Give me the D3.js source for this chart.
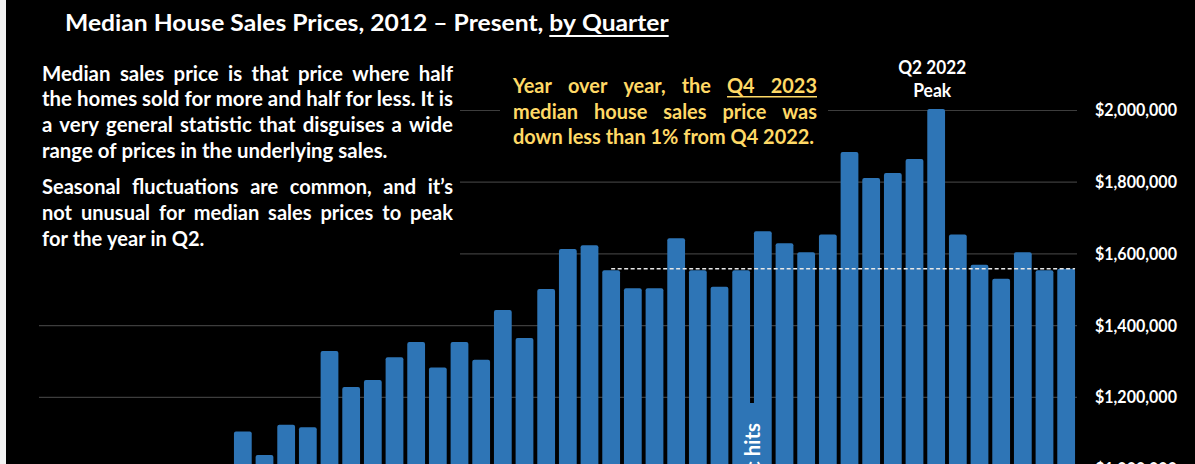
<!DOCTYPE html>
<html>
<head>
<meta charset="utf-8">
<script src="https://cdn.jsdelivr.net/npm/d3@7"></script>
<style>
  html, body { margin: 0; padding: 0; background: #000; overflow: hidden; }
  svg { display: block; }
  text { font-family: Lato, "Open Sans", sans-serif; font-weight: bold; }
</style>
</head>
<body>
<div id="graph"></div>
<script>
// quarters 2012 Q1 .. 2023 Q4
const years = [ 2012, 2013, 2014, 2015, 2016, 2017, 2018, 2019, 2020, 2021, 2022, 2023 ];
const quarterNames = [ "Q1", "Q2", "Q3", "Q4" ];

// median sales price per quarter (2012 - 2014 Q1 sit below the visible area)
const prices = [
  820000, 870000, 860000, 850000,
  900000, 960000, 940000, 930000,
  975000, 1103000, 1038000, 1122000,
  1115000, 1328000, 1227000, 1247000,
  1310000, 1353000, 1282000, 1353000,
  1303000, 1442000, 1364000, 1501000,
  1612000, 1623000, 1553000, 1503000,
  1503000, 1642000, 1553000, 1507000,
  1553000, 1662000, 1628000, 1603000,
  1653000, 1883000, 1810000, 1824000,
  1863000, 2003000, 1653000, 1568000,
  1529000, 1603000, 1553000, 1557000
];

const yTicks = [ 0, 200000, 400000, 600000, 800000, 1000000, 1200000, 1400000, 1600000, 1800000, 2000000 ];

const peakQuarter = "2022 Q2";
const peakLabel = [ "Q2 2022", "Peak" ];
const pandemicQuarter = "2020 Q1";
const pandemicLabel = "Pandemic hits";
const dashFrom = "2018 Q3";

const titleLine = [ [ { t: "Median House Sales Prices, 2012 \u2013 Present," }, { t: "by Quarter", u: true } ] ];
const medianLines = [
  [ { t: "Median sales price is that price where half" } ],
  [ { t: "the homes sold for more and half for less. It is" } ],
  [ { t: "a very general statistic that disguises a wide" } ],
  [ { t: "range of prices in the underlying sales." } ]
];
const seasonLines = [
  [ { t: "Seasonal fluctuations are common, and it\u2019s" } ],
  [ { t: "not unusual for median sales prices to peak" } ],
  [ { t: "for the year in Q2." } ]
];
const yoyLines = [
  [ { t: "Year over year, the" }, { t: "Q4 2023", u: true } ],
  [ { t: "median house sales price was" } ],
  [ { t: "down less than 1% from Q4 2022." } ]
];

let options = {
  width: 1195,
  height: 464,
  left: 37,
  right: 1077,
  top: 110,
  zeroY: 827,
  bar: "#2e75b6",
  grid: "#3d3d3d",
  yellow: "#ffd966"
};

let quarters = years.flatMap( y => quarterNames.map( q => y + " " + q ) );
let data = quarters.map( ( q, i ) => ( { quarter: q, price: prices[i] } ) );

function measure( g, str, size ) {
  let t = g.append( "text" ).attr( "font-size", size ).text( str );
  let w = t.node().getComputedTextLength();
  t.remove();
  return w;
}

function drawLine( g, segments, o ) {
  let words = [];
  segments.forEach( s => s.t.split( " " ).forEach( w => words.push( { t: w, u: !!s.u } ) ) );
  let space = ( measure( g, "x x", o.size ) - measure( g, "xx", o.size ) ) * o.k;
  let widths = words.map( w => measure( g, w.t, o.size ) * o.k );
  let gap = o.justify ? ( o.width - d3.sum( widths ) ) / ( words.length - 1 ) : space;
  let x = o.x;
  words.forEach( ( w, i ) => {
    w.x = x;
    w.w = widths[i];
    g.append( "text" )
     .attr( "x", x )
     .attr( "y", o.y )
     .attr( "font-size", o.size )
     .attr( "fill", o.color )
     .attr( "textLength", widths[i] )
     .attr( "lengthAdjust", "spacingAndGlyphs" )
     .text( w.t );
    x += widths[i] + gap;
  });
  let ul = words.filter( w => w.u );
  if ( ul.length ) {
    g.append( "line" )
     .attr( "x1", ul[0].x )
     .attr( "x2", ul[ ul.length - 1 ].x + ul[ ul.length - 1 ].w )
     .attr( "y1", o.y + o.ulOffset )
     .attr( "y2", o.y + o.ulOffset )
     .attr( "stroke", o.color )
     .attr( "stroke-width", o.ulWidth );
  }
}

function drawBlock( g, lines, o ) {
  let lastText = lines[ lines.length - 1 ].map( s => s.t ).join( " " );
  let k = o.lastWidth / measure( g, lastText, o.size );
  lines.forEach( ( line, i ) => drawLine( g, line, {
    x: o.x, y: o.baselines[i], size: o.size, color: o.color, k: k,
    width: o.width, justify: i < lines.length - 1,
    ulOffset: o.ulOffset || 3, ulWidth: o.ulWidth || 1.5
  }));
  return k;
}

function renderGraph() {
  let svg = d3.select( "#graph" )
              .append( "svg" )
              .attr( "width", options.width )
              .attr( "height", options.height );

  svg.append( "rect" )
     .attr( "width", options.width )
     .attr( "height", options.height )
     .attr( "fill", "#000" );

  svg.append( "rect" )
     .attr( "width", 6 )
     .attr( "height", options.height )
     .attr( "fill", "#f2f2f2" );

  let xScale = d3.scaleBand()
                 .domain( quarters )
                 .range( [ options.left, options.right ] )
                 .paddingInner( 0.18 )
                 .paddingOuter( 0.09 );

  let yScale = d3.scaleLinear()
                 .domain( [ 0, 2000000 ] )
                 .range( [ options.zeroY, options.top ] );

  // gridlines + value labels on the right
  let axis = svg.append( "g" )
                .attr( "transform", "translate(" + options.right + ",0)" )
                .call( d3.axisRight( yScale )
                         .tickValues( yTicks )
                         .tickSize( -( options.right - 39 ) )
                         .tickPadding( 18 )
                         .tickFormat( d3.format( "$,.0f" ) ) );
  axis.select( ".domain" ).remove();
  axis.selectAll( "line" ).attr( "stroke", options.grid ).attr( "stroke-width", 1.2 );
  axis.selectAll( "text" )
      .attr( "fill", "#fff" )
      .attr( "font-size", 16.5 )
      .attr( "font-family", "Lato, sans-serif" )
      .attr( "dy", "0.36em" )
      .attr( "textLength", 82 )
      .attr( "lengthAdjust", "spacingAndGlyphs" );

  // text boxes hide the gridlines behind them
  svg.append( "rect" ).attr( "x", 30 ).attr( "y", 58 ).attr( "width", 430 ).attr( "height", 203 ).attr( "fill", "#000" );
  svg.append( "rect" ).attr( "x", 500 ).attr( "y", 66 ).attr( "width", 328 ).attr( "height", 88 ).attr( "fill", "#000" );

  svg.selectAll( ".bar" )
     .data( data )
     .enter()
     .append( "rect" )
     .attr( "class", "bar" )
     .attr( "x", d => xScale( d.quarter ) )
     .attr( "y", d => yScale( d.price ) )
     .attr( "width", xScale.bandwidth() )
     .attr( "height", d => yScale( 0 ) - yScale( d.price ) )
     .attr( "rx", 2 )
     .attr( "fill", options.bar );

  // pandemic callout between 2020 Q1 and Q2
  let pandX = xScale( pandemicQuarter ) + xScale.bandwidth() + ( xScale.step() - xScale.bandwidth() ) / 2;
  svg.append( "rect" )
     .attr( "x", pandX - 15 )
     .attr( "y", 403 )
     .attr( "width", 30 )
     .attr( "height", 100 )
     .attr( "fill", options.bar );

  // Q4 2023 reference line
  let last = data[ data.length - 1 ];
  svg.append( "line" )
     .attr( "x1", xScale( dashFrom ) + xScale.bandwidth() / 2 )
     .attr( "x2", xScale( last.quarter ) + xScale.bandwidth() )
     .attr( "y1", yScale( last.price ) )
     .attr( "y2", yScale( last.price ) )
     .attr( "stroke", "#e8e8e8" )
     .attr( "stroke-width", 1.5 )
     .attr( "stroke-dasharray", "4,2.5" );

  let texts = svg.append( "g" );

  drawBlock( texts, titleLine, { x: 65, baselines: [ 31 ], size: 22.5, color: "#fff", lastWidth: 603, width: 603, ulOffset: 5, ulWidth: 1.8 } );

  let k = drawBlock( texts, medianLines, { x: 42, baselines: [ 80.7, 106.3, 132, 157.7 ], size: 20.5, color: "#fff", lastWidth: 345, width: 411 } );
  drawBlock( texts, seasonLines, { x: 42, baselines: [ 194, 220, 246 ], size: 20.5, color: "#fff", lastWidth: 161, width: 411 } );
  drawBlock( texts, yoyLines, { x: 513, baselines: [ 93.3, 118.5, 143.5 ], size: 20.5, color: options.yellow, lastWidth: 301, width: 304, ulOffset: 3.4, ulWidth: 1.6 } );

  // peak annotation
  let peakX = xScale( peakQuarter ) + xScale.bandwidth() / 2 - 4;
  texts.selectAll( ".peak" )
       .data( peakLabel )
       .enter()
       .append( "text" )
       .attr( "class", "peak" )
       .attr( "x", peakX )
       .attr( "y", ( d, i ) => 73.5 + i * 23.8 )
       .attr( "text-anchor", "middle" )
       .attr( "font-size", 18 )
       .attr( "fill", "#fff" )
       .attr( "textLength", ( d, i ) => i ? 38 : 68 )
       .attr( "lengthAdjust", "spacingAndGlyphs" )
       .text( d => d );

  let pw = measure( texts, pandemicLabel, 20.5 ) * k;
  texts.append( "text" )
       .attr( "transform", "translate(" + ( pandX + 8 ) + ",423) rotate(-90)" )
       .attr( "text-anchor", "end" )
       .attr( "font-size", 20.5 )
       .attr( "fill", "#fff" )
       .attr( "textLength", pw )
       .attr( "lengthAdjust", "spacingAndGlyphs" )
       .text( pandemicLabel );
}

renderGraph();
</script>
</body>
</html>
